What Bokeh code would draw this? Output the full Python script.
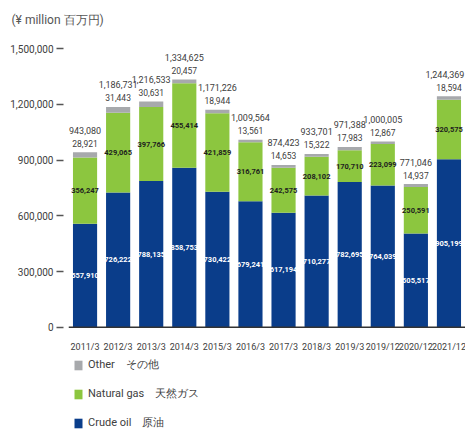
from bokeh.plotting import figure
from bokeh.models import ColumnDataSource, Range1d, FixedTicker, Legend, LegendItem, Span, NumeralTickFormatter
from bokeh.core.properties import value
from bokeh.embed import file_html
from bokeh.resources import INLINE

years = ["2011/3", "2012/3", "2013/3", "2014/3", "2015/3", "2016/3", "2017/3",
         "2018/3", "2019/3", "2019/12", "2020/12", "2021/12"]
crude_oil = [557910, 726222, 788135, 858753, 730422, 679241, 617194, 710277, 782695, 764039, 505517, 905199]
natural_gas = [356247, 429065, 397766, 455414, 421859, 316761, 242575, 208102, 170710, 223099, 250591, 320575]
other = [28921, 31443, 30631, 20457, 18944, 13561, 14653, 15322, 17983, 12867, 14937, 18594]
totals = [943080, 1186731, 1216533, 1334625, 1171226, 1009564, 874423, 933701, 971388, 1000005, 771046, 1244369]
y_ticks = [0, 300000, 600000, 900000, 1200000, 1500000]

FONT = "Roboto"
C_OIL = "#0a3d8a"
C_GAS = "#8cc63f"
C_OTH = "#a7a9ac"
TXT = "#404040"

n = len(years)
src = ColumnDataSource(dict(
    x=years, crude=crude_oil, gas=natural_gas, other=other, total=totals,
    gas_mid=[c + g / 2 for c, g in zip(crude_oil, natural_gas)],
    oil_mid=[c / 2 for c in crude_oil],
    zero=[0] * n,
    total_dx=[0] * (n - 1) + [-4],
    total_lbl=[f"{v:,}" for v in totals],
    other_lbl=[f"{v:,}" for v in other],
    gas_lbl=[f"{v:,}" for v in natural_gas],
    oil_lbl=[f"{v:,}" for v in crude_oil],
))

p = figure(x_range=years, y_range=Range1d(-561100, 1619800),
           width=465, height=431, x_axis_location=None,
           min_border_left=68, min_border_right=0, min_border_top=26, min_border_bottom=0,
           output_backend="svg", toolbar_location=None, tools="")
p.outline_line_color = None
p.grid.visible = False
p.x_range.range_padding = 0

# title
p.title.text = "(¥ million  百万円)"
p.title.align = "left"
p.title.offset = -57
p.title.text_font = FONT
p.title.text_font_size = "12px"
p.title.text_font_style = "normal"
p.title.text_color = "#555555"
try:
    p.title.standoff = 0
except Exception:
    pass

rs = p.vbar_stack(["crude", "gas", "other"], x="x", width=0.73, source=src,
                  color=[C_OIL, C_GAS, C_OTH], line_color=None)

# x axis line and category labels
p.add_layout(Span(location=0, dimension="width", line_color="#333333", line_width=1.5))
p.text(x="x", y="zero", text="x", source=src, text_color=TXT,
       text_font=value(FONT), text_font_size="9px", text_align="center",
       text_baseline="middle", y_offset=20)

# value labels
p.text(x="x", y="oil_mid", text="oil_lbl", source=src, text_color="white",
       text_font=value(FONT), text_font_size="7.5px", text_align="center",
       text_baseline="middle", text_font_style="bold")
p.text(x="x", y="gas_mid", text="gas_lbl", source=src, text_color="#1e1e1e",
       text_font=value(FONT), text_font_size="7.5px", text_align="center",
       text_baseline="middle", text_font_style="bold")
p.text(x="x", y="total", text="other_lbl", source=src, text_color=TXT,
       text_font=value(FONT), text_font_size="8.5px", text_align="center",
       text_baseline="middle", y_offset=-9)
p.text(x="x", y="total", text="total_lbl", source=src, text_color=TXT,
       text_font=value(FONT), text_font_size="9px", text_align="center",
       text_baseline="middle", y_offset=-22, x_offset="total_dx")

# y axis
ya = p.yaxis[0]
ya.ticker = FixedTicker(ticks=y_ticks)
ya.formatter = NumeralTickFormatter(format="0,0")
ya.axis_line_color = None
ya.major_tick_in = -5
ya.major_tick_out = 12
ya.minor_tick_line_color = None
ya.major_tick_line_color = "#555555"
ya.major_tick_line_width = 1.3
ya.major_label_standoff = 3
ya.major_label_text_font = FONT
ya.major_label_text_font_size = "10px"
ya.major_label_text_color = TXT

legend = Legend(items=[
    LegendItem(label="Other　その他", renderers=[rs[2]]),
    LegendItem(label="Natural gas　天然ガス", renderers=[rs[1]]),
    LegendItem(label="Crude oil　原油", renderers=[rs[0]]),
], location=(5, 1), orientation="vertical")
legend.border_line_color = None
legend.background_fill_alpha = 0
legend.margin = 0
legend.padding = 0
legend.glyph_width = 10
legend.glyph_height = 12
legend.label_height = 12
legend.spacing = 14
legend.label_standoff = 5
legend.label_text_font = FONT
legend.label_text_font_size = "11px"
legend.label_text_color = TXT
legend.label_text_baseline = "middle"
p.add_layout(legend, "center")

open("out.html", "w").write(file_html(p, INLINE))
